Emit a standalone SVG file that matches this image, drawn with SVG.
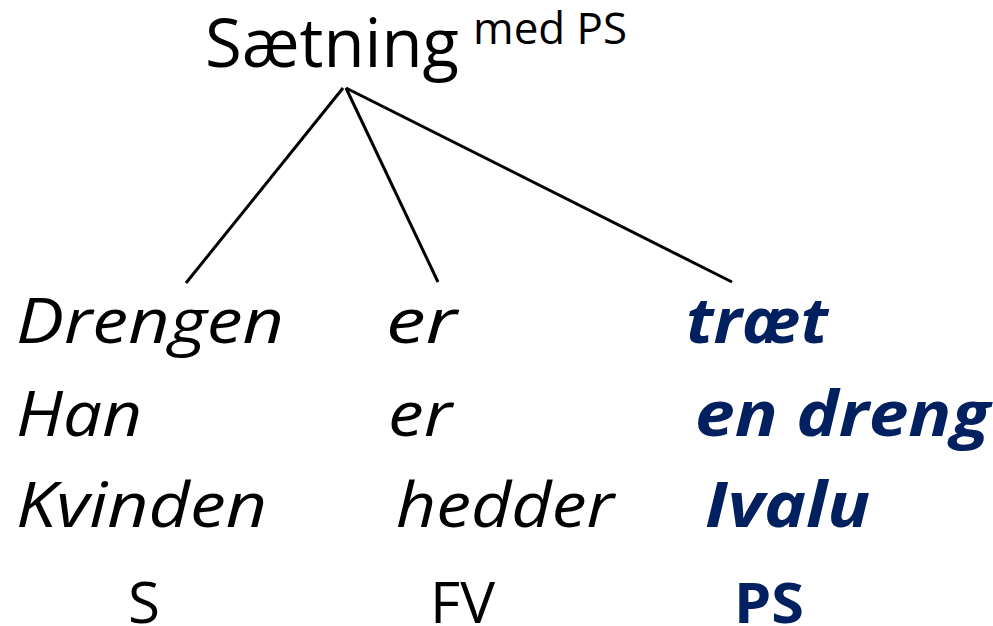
<svg xmlns="http://www.w3.org/2000/svg" width="993" height="626" viewBox="0 0 993 626">
<style>
text{font-family:"Open Sans","Noto Sans","DejaVu Sans",sans-serif;fill:#000}
.w{font-style:italic;font-size:62px}
.p{font-style:italic;font-weight:bold;font-size:62px;fill:#002060}
.l{font-size:56px}
.lp{font-size:56px;font-weight:bold;fill:#002060}
.c{stroke:#000;stroke-width:3;fill:none}
</style>
<rect width="993" height="626" fill="#fff"/>
<g id="root"><text x="205" y="67" font-size="67" textLength="254" lengthAdjust="spacingAndGlyphs">Sætning</text><text x="473" y="44" font-size="44" textLength="154" lengthAdjust="spacingAndGlyphs">med PS</text></g>
<g id="connectors">
<line class="c" x1="343" y1="88" x2="186" y2="283"/>
<line class="c" x1="346" y1="88" x2="438" y2="282"/>
<line class="c" x1="346" y1="88" x2="732" y2="282"/>
</g>
<g id="subject"><text class="w" x="16" y="343" textLength="268" lengthAdjust="spacingAndGlyphs">Drengen</text><text class="w" x="16" y="436" textLength="126" lengthAdjust="spacingAndGlyphs">Han</text><text class="w" x="16" y="527" textLength="251" lengthAdjust="spacingAndGlyphs">Kvinden</text><text class="l" x="128" y="623" textLength="32" lengthAdjust="spacingAndGlyphs">S</text></g>
<g id="verb"><text class="w" x="386" y="343" textLength="71" lengthAdjust="spacingAndGlyphs">er</text><text class="w" x="388" y="436" textLength="64" lengthAdjust="spacingAndGlyphs">er</text><text class="w" x="396" y="527" textLength="218" lengthAdjust="spacingAndGlyphs">hedder</text><text class="l" x="430" y="623" textLength="65" lengthAdjust="spacingAndGlyphs">FV</text></g>
<g id="ps"><text class="p" x="686" y="343" textLength="142" lengthAdjust="spacingAndGlyphs">træt</text><text class="p" x="695" y="436" textLength="295" lengthAdjust="spacingAndGlyphs">en dreng</text><text class="p" x="705" y="527" textLength="165" lengthAdjust="spacingAndGlyphs">Ivalu</text><text class="lp" x="734" y="623" textLength="70" lengthAdjust="spacingAndGlyphs">PS</text></g>
</svg>
